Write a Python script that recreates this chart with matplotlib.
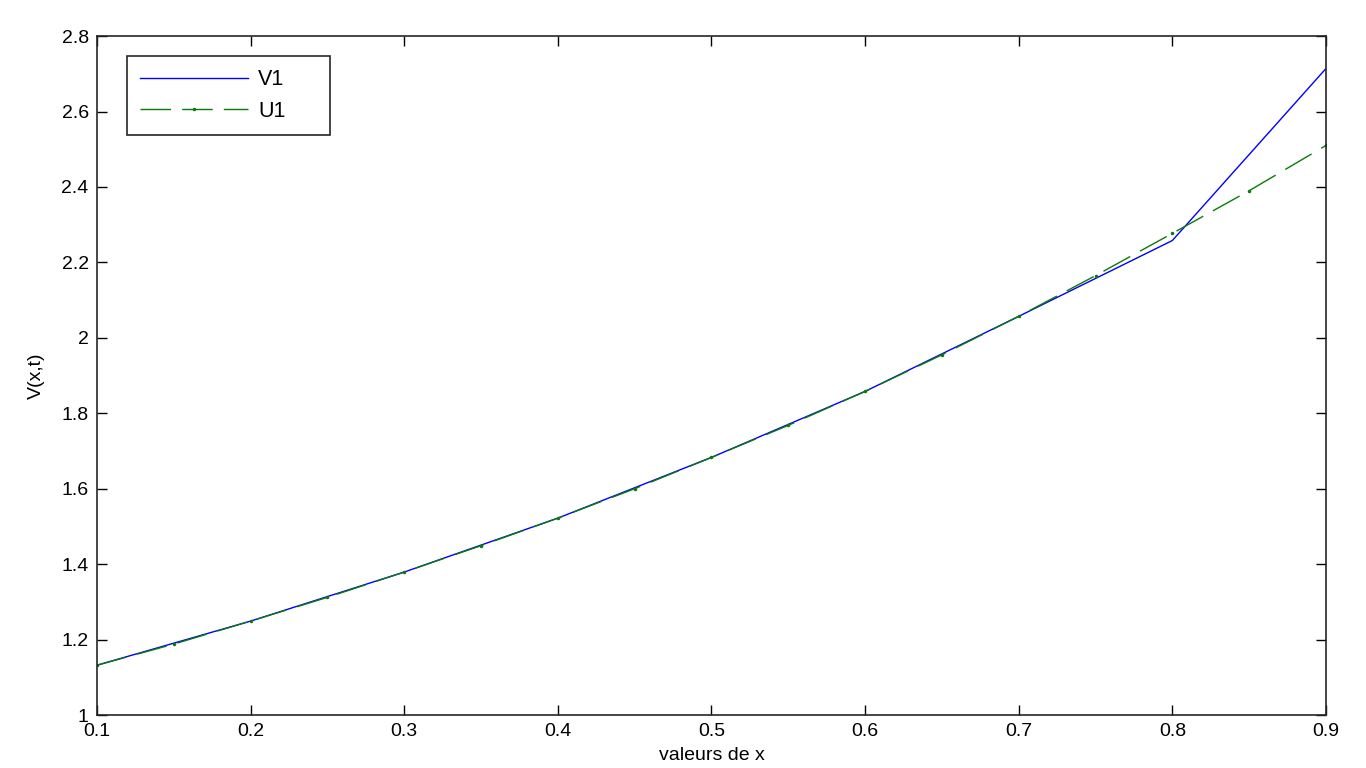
import matplotlib.pyplot as plt

# values
x_v = [0.1, 0.2, 0.3, 0.4, 0.5, 0.6, 0.7, 0.8, 0.9]
v1 = [1.132, 1.249, 1.379, 1.522, 1.683, 1.858, 2.057, 2.258, 2.714]

x_u = [0.1, 0.15, 0.2, 0.25, 0.3, 0.35, 0.4, 0.45, 0.5, 0.55, 0.6,
       0.65, 0.7, 0.75, 0.8, 0.85, 0.9]
u1 = [1.132, 1.188, 1.249, 1.312, 1.379, 1.449, 1.522, 1.600, 1.683,
      1.768, 1.858, 1.955, 2.057, 2.165, 2.277, 2.390, 2.510]

xticks = [0.1, 0.2, 0.3, 0.4, 0.5, 0.6, 0.7, 0.8, 0.9]
yticks = [1, 1.2, 1.4, 1.6, 1.8, 2, 2.2, 2.4, 2.6, 2.8]
ytick_labels = ["1", "1.2", "1.4", "1.6", "1.8", "2", "2.2", "2.4", "2.6", "2.8"]

plt.rcParams['font.family'] = ['Liberation Sans', 'DejaVu Sans']

fig = plt.figure(figsize=(13.66, 7.68), dpi=100)
ax = fig.add_axes([0.071, 0.069, 0.8997, 0.884])

ax.plot(x_v, v1, color='#0000ff', lw=1, label='V1')
ax.plot(x_u, u1, color='#0a7a0a', lw=1, ls=(0, (22, 8)), marker='.',
        markersize=3, label='U1')

ax.set_xlim(0.1, 0.9)
ax.set_ylim(1, 2.8)
ax.set_xticks(xticks)
ax.set_xticklabels([f"{t:g}" for t in xticks])
ax.set_yticks(yticks)
ax.set_yticklabels(ytick_labels)
ax.tick_params(direction='in', top=True, right=True, length=7,
               labelsize=14, width=1)
ax.tick_params(axis='y', pad=6)
ax.tick_params(axis='x', pad=6)
for sp in ax.spines.values():
    sp.set_linewidth(1.2)
    sp.set_color('#262626')

ax.set_xlabel('valeurs de x', fontsize=14, labelpad=5)
ax.set_ylabel('V(x,t)', fontsize=14, labelpad=12)

leg = ax.legend(loc='upper left', bbox_to_anchor=(0.0244, 0.865, 0.165, 0.1055),
                mode='expand', borderaxespad=0, fontsize=15.5, fancybox=False,
                edgecolor='#262626', framealpha=1, handlelength=5.0,
                handletextpad=0.5, borderpad=0.6, labelspacing=0.5)
leg.get_frame().set_linewidth(1.2)

fig.savefig('out.png', dpi=100)
